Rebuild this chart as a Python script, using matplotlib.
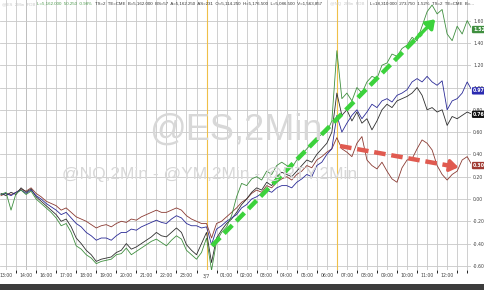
import numpy as np
import matplotlib
matplotlib.use("Agg")
import matplotlib.pyplot as plt
from matplotlib.patches import Rectangle

# x positions are chart hours: 13:00 = 0, 14:00 = 1, 16:00 = 2 ... 12:00 = 22 (one quarter hour per point)
timeStart = -0.25
timeStep = 0.25

tickLabels = ["13:00", "14:00", "16:00", "17:00", "18:00", "19:00", "20:00", "21:00", "22:00", "23:00", "3/7",
              "01:00", "02:00", "03:00", "04:00", "05:00", "06:00", "07:00", "08:00", "09:00", "10:00", "11:00", "12:00"]

# % change lines
redLine = [0.03, 0.05, 0.04, 0.06, 0.09, 0.07, 0.10, 0.05, 0.02, -0.02, -0.04, -0.06, -0.10, -0.08, -0.12, -0.16, -0.18,
           -0.20, -0.23, -0.26, -0.24, -0.23, -0.25, -0.22, -0.20, -0.21, -0.18, -0.19, -0.16, -0.14, -0.12, -0.10, -0.12,
           -0.12, -0.10, -0.08, -0.10, -0.15, -0.18, -0.20, -0.22, -0.22, -0.35, -0.22, -0.20, -0.16, -0.12, -0.08, -0.03,
           0.00, 0.05, 0.08, 0.06, 0.12, 0.10, 0.15, 0.18, 0.20, 0.17, 0.22, 0.25, 0.30, 0.28, 0.35, 0.38,
           0.42, 0.45, 0.55, 0.45, 0.42, 0.38, 0.50, 0.56, 0.35, 0.30, 0.27, 0.33, 0.25, 0.18, 0.15, 0.28,
           0.35, 0.36, 0.45, 0.53, 0.50, 0.44, 0.30, 0.22, 0.17, 0.22, 0.25, 0.35, 0.38, 0.30]

blueLine = [0.04, 0.05, 0.03, 0.06, 0.08, 0.05, 0.08, 0.03, 0.00, -0.04, -0.07, -0.10, -0.14, -0.12, -0.17, -0.22, -0.25,
            -0.30, -0.33, -0.37, -0.35, -0.35, -0.37, -0.33, -0.30, -0.30, -0.27, -0.28, -0.25, -0.23, -0.21, -0.19, -0.21,
            -0.22, -0.18, -0.15, -0.17, -0.22, -0.24, -0.24, -0.26, -0.25, -0.41, -0.27, -0.24, -0.20, -0.17, -0.14, -0.08,
            -0.05, 0.00, 0.02, 0.05, 0.08, 0.06, 0.10, 0.12, 0.12, 0.10, 0.15, 0.18, 0.22, 0.20, 0.30, 0.33,
            0.40, 0.45, 0.75, 0.60, 0.68, 0.75, 0.80, 0.72, 0.78, 0.85, 0.82, 0.88, 0.90, 0.87, 0.93, 0.95,
            0.98, 1.05, 1.08, 1.05, 1.10, 1.05, 1.02, 1.06, 0.80, 0.88, 0.90, 0.95, 1.05, 0.97]

blackLine = [0.05, 0.03, 0.06, 0.04, 0.10, 0.06, 0.09, 0.02, -0.02, -0.06, -0.10, -0.14, -0.20, -0.18, -0.25, -0.35, -0.40,
             -0.46, -0.50, -0.56, -0.54, -0.53, -0.52, -0.48, -0.46, -0.40, -0.45, -0.43, -0.40, -0.37, -0.34, -0.30, -0.33,
             -0.34, -0.30, -0.26, -0.30, -0.41, -0.46, -0.50, -0.40, -0.30, -0.57, -0.35, -0.28, -0.22, -0.18, -0.12, -0.05,
             0.00, 0.06, 0.10, 0.08, 0.15, 0.12, 0.20, 0.24, 0.22, 0.20, 0.25, 0.30, 0.35, 0.33, 0.40, 0.45,
             0.50, 0.60, 0.95, 0.75, 0.80, 0.70, 0.78, 0.68, 0.72, 0.62, 0.70, 0.80, 0.85, 0.82, 0.88, 0.90,
             0.92, 0.95, 1.00, 0.93, 0.80, 0.82, 0.78, 0.80, 0.66, 0.74, 0.72, 0.75, 0.78, 0.76]

greenLine = [0.04, 0.06, -0.10, 0.05, 0.08, 0.04, 0.07, 0.00, -0.04, -0.08, -0.12, -0.17, -0.24, -0.22, -0.30, -0.42, -0.45,
             -0.50, -0.53, -0.58, -0.56, -0.55, -0.54, -0.50, -0.49, -0.44, -0.50, -0.47, -0.44, -0.41, -0.38, -0.36, -0.39,
             -0.42, -0.37, -0.33, -0.36, -0.46, -0.50, -0.54, -0.48, -0.35, -0.64, -0.38, -0.30, -0.25, -0.15, 0.02, 0.14,
             0.12, 0.18, 0.20, 0.17, 0.25, 0.22, 0.30, 0.33, 0.30, 0.28, 0.35, 0.40, 0.45, 0.50, 0.55, 0.58,
             0.60, 0.70, 1.33, 0.90, 0.95, 0.88, 1.00, 0.95, 1.05, 1.10, 1.08, 1.20, 1.22, 1.30, 1.28, 1.35,
             1.38, 1.45, 1.42, 1.55, 1.68, 1.74, 1.66, 1.70, 1.48, 1.42, 1.55, 1.48, 1.60, 1.52]

lastValues = [1.52, 0.97, 0.76, 0.30]
yTicks = [1.60, 1.40, 1.20, 1.00, 0.80, 0.60, 0.40, 0.20, 0.00, -0.20, -0.40, -0.60]

# hand drawn trend arrows (start, end) in chart units
greenArrow = [(10.27, -0.42), (21.5, 1.63)]
redArrow = [(16.66, 0.475), (22.7, 0.28)]

eventTimes = [10.0, 16.5]

colGreen = "#3f8f3f"
colBlue = "#2a2a96"
colBlack = "#2e2e2e"
colRed = "#8a3a32"

fig = plt.figure(figsize=(4.85, 2.9), dpi=100)
ax = fig.add_axes([0.0, 20 / 290, 471 / 485, 270 / 290])

hours = timeStart + timeStep * np.arange(len(greenLine))

# grid, half hourly vertical lines and 0.2 horizontal
ax.set_xticks(np.arange(0, 23.5, 0.5), minor=True)
ax.set_xticks(np.arange(0, 23, 1))
ax.set_xticklabels(tickLabels)
ax.set_yticks(yTicks)
ax.set_yticklabels(["%.2f" % t for t in yTicks])
ax.grid(True, which="both", axis="x", color="#c8c8c8", lw=0.6)
ax.grid(True, which="major", axis="y", color="#c8c8c8", lw=0.6)
ax.axvline(1, color="#999999", lw=0.7, zorder=1)
for t in eventTimes:
    ax.axvline(t, color="#efc04a", lw=0.8, zorder=2)

# watermarks
fig.text(236 / 485, 1 - 130 / 290, "@ES,2Min", fontsize=26, color="#d8d8d8", ha="center", va="center",
         family="Liberation Sans", zorder=0)
fig.text(210 / 485, 1 - 175 / 290, "@NQ,2Min - @YM,2Min - @RTY,2Min", fontsize=12.5, color="#d8d8d8",
         ha="center", va="center", family="Liberation Sans", zorder=0)

ax.plot(hours, redLine, color=colRed, lw=0.6, zorder=3)
ax.plot(hours, blackLine, color=colBlack, lw=0.6, zorder=3)
ax.plot(hours, blueLine, color=colBlue, lw=0.6, zorder=3)
ax.plot(hours, greenLine, color=colGreen, lw=0.6, zorder=3)

# dashed trend arrows
for arr, col in [(greenArrow, "#3cd23c"), (redArrow, "#e05a50")]:
    (x0, y0), (x1, y1) = arr
    ax.plot([x0, x0 + 0.93 * (x1 - x0)], [y0, y0 + 0.93 * (y1 - y0)], color=col, lw=3.2,
            dashes=(2.6, 1.3), solid_capstyle="butt", zorder=4)
    ax.annotate("", xy=(x1, y1), xytext=(x0 + 0.9 * (x1 - x0), y0 + 0.9 * (y1 - y0)),
                arrowprops=dict(arrowstyle="-|>,head_length=0.5,head_width=0.35", color=col, lw=2.5),
                zorder=4)

ax.set_xlim(-0.3, 23.19)
ax.set_ylim(-0.637, 1.785)
ax.yaxis.tick_right()
ax.tick_params(axis="both", length=0, labelsize=3.3, labelcolor="#404040", pad=1.5)
ax.tick_params(axis="x", pad=2.5)
for s in ax.spines.values():
    s.set_visible(False)

# last value boxes on the right axis
for val, col in zip(lastValues, [colGreen, "#2a2ab0", "#111111", "#a03a32"]):
    ax.annotate("%.2f" % val, xy=(1.0, val), xycoords=("axes fraction", "data"), xytext=(1.5, 0),
                textcoords="offset points", fontsize=3.4, color="white", fontweight="bold", va="center",
                bbox=dict(boxstyle="round,pad=0.25", fc=col, ec="none"), annotation_clip=False, zorder=6)

# header quote line
hdrY = 1 - 4 / 290
hdrFont = dict(fontsize=3.2, va="center", family="Liberation Sans")
fig.text(2 / 485, hdrY, "@ES  2Min  FDB", color="#c8c8c8", **hdrFont)
fig.text(37 / 485, hdrY, "L=5,162.000  50.250  0.98%", color="#4c9a4c", **hdrFont)
fig.text(95 / 485, hdrY, "TS=2  TE=CME  B=5,162.000  BS=57  A=5,162.250  AS=231  O=5,114.250  "
         "H=5,176.500  L=5,086.500  V=1,563,857", color="#303030", **hdrFont)
fig.text(330 / 485, hdrY, "@NQ  2Min  FDB", color="#c8c8c8", **hdrFont)
fig.text(370 / 485, hdrY, "L=18,310.000  273.750  1.52%  TS=2  TE=CME  B=...", color="#303030", **hdrFont)

# dark strip at the bottom
fig.patches.append(Rectangle((0, 0), 1, 6 / 290, transform=fig.transFigure, fc="#3c3c3c", ec="none"))

fig.savefig("out.png", dpi=100)
